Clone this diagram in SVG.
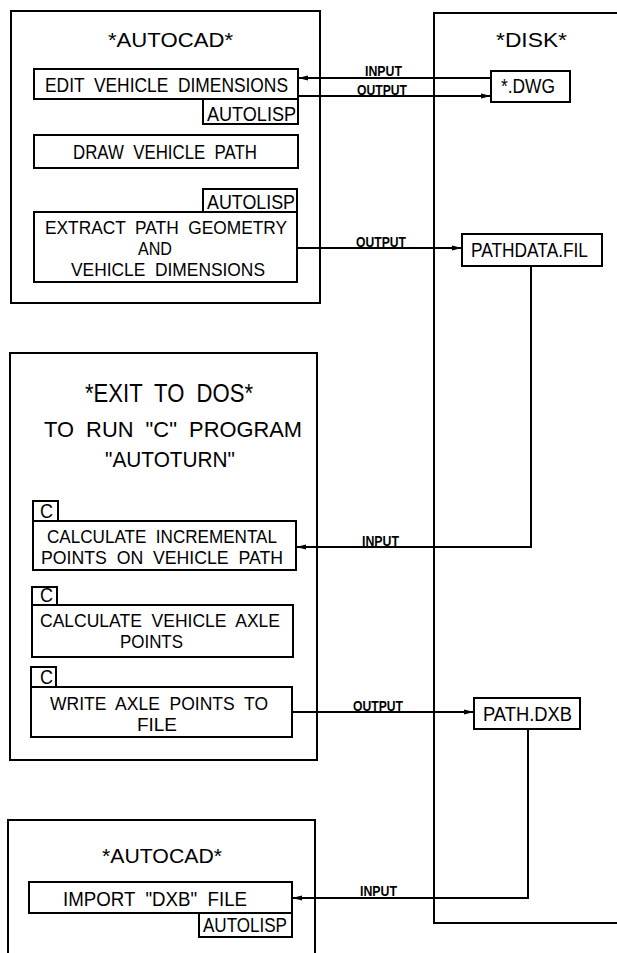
<svg xmlns="http://www.w3.org/2000/svg" width="617" height="953" viewBox="0 0 617 953">
<defs>
<style>
.box{fill:none;stroke:#000;stroke-width:2}
.ln{fill:none;stroke:#000;stroke-width:2}
.t{font-family:"Liberation Sans",Arial,sans-serif;font-size:20px;fill:#000;white-space:pre}
.s{font-family:"Liberation Sans",Arial,sans-serif;font-size:18px;fill:#000;white-space:pre}
.h{font-family:"Liberation Sans",Arial,sans-serif;font-size:21px;fill:#000;white-space:pre}
.lb{font-family:"Liberation Sans",Arial,sans-serif;font-size:14px;font-weight:bold;fill:#000}
</style>
<marker id="ah" viewBox="0 0 10 6" refX="10" refY="3" markerWidth="10" markerHeight="6" markerUnits="userSpaceOnUse" orient="auto">
<path d="M0,0.5 L10,3 L0,5.5 Z" fill="#000"/>
</marker>
</defs>
<rect width="617" height="953" fill="#fff"/>

<g id="autocad1">
<rect class="box" x="11" y="11" width="309" height="292"/>
<text class="h" x="108" y="47" textLength="125" lengthAdjust="spacingAndGlyphs">*AUTOCAD*</text>
</g>
<g id="edit">
<rect class="box" x="34" y="69" width="264" height="30"/>
<text class="t" x="45" y="92" textLength="243" lengthAdjust="spacingAndGlyphs">EDIT  VEHICLE  DIMENSIONS</text>
<rect class="box" x="203" y="99" width="95" height="25"/>
<text class="t" x="207" y="121" textLength="89" lengthAdjust="spacingAndGlyphs">AUTOLISP</text>
</g>
<g id="draw">
<rect class="box" x="34" y="135" width="264" height="33"/>
<text class="t" x="73" y="159" textLength="184" lengthAdjust="spacingAndGlyphs">DRAW  VEHICLE  PATH</text>
</g>
<g id="extract">
<rect class="box" x="203" y="189" width="94" height="23"/>
<text class="t" x="207" y="209" textLength="88" lengthAdjust="spacingAndGlyphs">AUTOLISP</text>
<rect class="box" x="34" y="212" width="263" height="70"/>
<text class="s" x="45" y="234" textLength="242" lengthAdjust="spacingAndGlyphs">EXTRACT  PATH  GEOMETRY</text>
<text class="s" x="138" y="255" textLength="34" lengthAdjust="spacingAndGlyphs">AND</text>
<text class="s" x="71" y="276" textLength="194" lengthAdjust="spacingAndGlyphs">VEHICLE  DIMENSIONS</text>
</g>

<g id="disk">
<path class="box" d="M617 13 H434 V923 H617"/>
<text class="h" x="496" y="47" textLength="71" lengthAdjust="spacingAndGlyphs">*DISK*</text>
</g>
<g id="dwg">
<rect class="box" x="491" y="71" width="79" height="31"/>
<text class="t" x="501" y="93" textLength="54" lengthAdjust="spacingAndGlyphs">*.DWG</text>
</g>
<g id="pathdata">
<rect class="box" x="462" y="234" width="140" height="32"/>
<text class="t" x="471" y="257" textLength="117" lengthAdjust="spacingAndGlyphs">PATHDATA.FIL</text>
</g>
<g id="pathdxb">
<rect class="box" x="474" y="698" width="106" height="31"/>
<text class="t" x="483" y="721" textLength="89" lengthAdjust="spacingAndGlyphs">PATH.DXB</text>
</g>

<g id="dos">
<rect class="box" x="10" y="353" width="307" height="407"/>
<text class="h" x="85" y="402" textLength="168" lengthAdjust="spacingAndGlyphs" style="font-size:25px">*EXIT  TO  DOS*</text>
<text class="h" x="44" y="437" textLength="258" lengthAdjust="spacingAndGlyphs" style="font-size:22px">TO  RUN  "C"  PROGRAM</text>
<text class="h" x="105" y="467" textLength="130" lengthAdjust="spacingAndGlyphs" style="font-size:22px">"AUTOTURN"</text>
</g>
<g id="calcinc">
<rect class="box" x="33" y="501" width="25" height="20"/>
<text class="t" x="40" y="518" textLength="13" lengthAdjust="spacingAndGlyphs">C</text>
<rect class="box" x="33" y="521" width="263" height="49"/>
<text class="s" x="47" y="543" textLength="230" lengthAdjust="spacingAndGlyphs">CALCULATE  INCREMENTAL</text>
<text class="s" x="41" y="564" textLength="242" lengthAdjust="spacingAndGlyphs">POINTS  ON  VEHICLE  PATH</text>
</g>
<g id="calcaxle">
<rect class="box" x="32" y="587" width="25" height="18"/>
<text class="t" x="40" y="602" textLength="13" lengthAdjust="spacingAndGlyphs">C</text>
<rect class="box" x="32" y="605" width="261" height="52"/>
<text class="s" x="40" y="627" textLength="240" lengthAdjust="spacingAndGlyphs">CALCULATE  VEHICLE  AXLE</text>
<text class="s" x="120" y="648" textLength="63" lengthAdjust="spacingAndGlyphs">POINTS</text>
</g>
<g id="writeaxle">
<rect class="box" x="31" y="667" width="25" height="20"/>
<text class="t" x="40" y="684" textLength="13" lengthAdjust="spacingAndGlyphs">C</text>
<rect class="box" x="31" y="687" width="261" height="50"/>
<text class="s" x="50" y="710" textLength="218" lengthAdjust="spacingAndGlyphs">WRITE  AXLE  POINTS  TO</text>
<text class="s" x="137" y="731" textLength="40" lengthAdjust="spacingAndGlyphs">FILE</text>
</g>

<g id="autocad2">
<path class="box" d="M8 953 V820 H315 V953"/>
<text class="h" x="102" y="863" textLength="120" lengthAdjust="spacingAndGlyphs">*AUTOCAD*</text>
</g>
<g id="import">
<rect class="box" x="29" y="882" width="263" height="31"/>
<text class="t" x="63" y="906" textLength="184" lengthAdjust="spacingAndGlyphs">IMPORT  "DXB"  FILE</text>
<rect class="box" x="199" y="913" width="93" height="24"/>
<text class="t" x="203" y="932" textLength="84" lengthAdjust="spacingAndGlyphs">AUTOLISP</text>
</g>

<g id="connectors">
<path class="ln" d="M491 78 H298" marker-end="url(#ah)"/>
<path class="ln" d="M298 96 H491" marker-end="url(#ah)"/>
<path class="ln" d="M297 248 H462" marker-end="url(#ah)"/>
<path class="ln" d="M531 266 V547 H296" marker-end="url(#ah)"/>
<path class="ln" d="M292 712 H474" marker-end="url(#ah)"/>
<path class="ln" d="M528 729 V898 H292" marker-end="url(#ah)"/>
<text class="lb" x="365" y="76" textLength="37" lengthAdjust="spacingAndGlyphs">INPUT</text>
<text class="lb" x="357" y="95" textLength="50" lengthAdjust="spacingAndGlyphs">OUTPUT</text>
<text class="lb" x="356" y="247" textLength="50" lengthAdjust="spacingAndGlyphs">OUTPUT</text>
<text class="lb" x="362" y="546" textLength="37" lengthAdjust="spacingAndGlyphs">INPUT</text>
<text class="lb" x="353" y="711" textLength="50" lengthAdjust="spacingAndGlyphs">OUTPUT</text>
<text class="lb" x="360" y="896" textLength="37" lengthAdjust="spacingAndGlyphs">INPUT</text>
</g>
</svg>
